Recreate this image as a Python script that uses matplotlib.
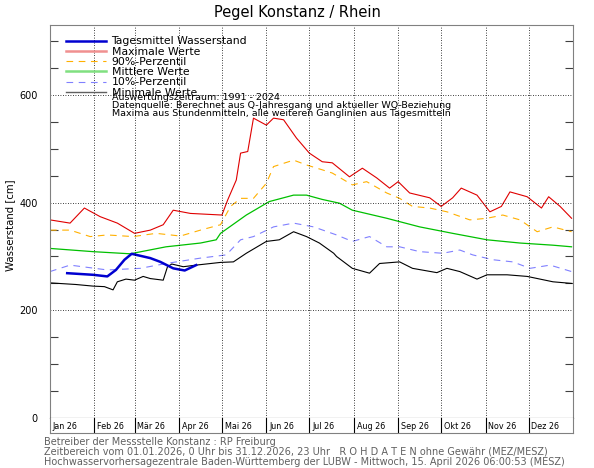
import matplotlib
matplotlib.use("Agg")
import matplotlib.pyplot as plt
import numpy as np
import pandas as pd

# Tag im Jahr (0 = 1. Januar 2026) und Werte in cm
max_days = [0, 14, 24, 35, 47, 59, 70, 79, 86, 98, 120, 124, 130, 133, 138, 142, 151, 156, 163,
            172, 181, 190, 197, 209, 218, 228, 237, 243, 251, 265, 273, 281, 287, 298, 307, 315,
            321, 333, 343, 348, 356, 364]
max_vals = [368, 362, 390, 374, 362, 343, 349, 359, 386, 380, 377, 405, 442, 492, 495, 557, 544,
            557, 554, 520, 492, 476, 474, 448, 464, 446, 427, 439, 418, 409, 393, 409, 427, 414,
            383, 393, 420, 411, 390, 411, 393, 371]

p90_days = [0, 14, 28, 40, 58, 74, 91, 105, 119, 126, 133, 142, 151, 156, 170, 179, 190, 197,
            211, 221, 235, 244, 253, 265, 277, 293, 305, 316, 328, 340, 351, 364]
p90_vals = [349, 349, 337, 340, 337, 343, 338, 349, 359, 393, 408, 408, 436, 467, 479, 470, 461,
            455, 433, 439, 418, 408, 393, 390, 383, 368, 371, 377, 368, 346, 355, 346]

mean_days = [0, 30, 56, 81, 105, 116, 119, 137, 153, 170, 179, 190, 202, 211, 235, 258, 281,
             305, 328, 351, 364]
mean_vals = [315, 309, 305, 318, 325, 331, 343, 377, 402, 414, 414, 406, 399, 386, 371, 355,
             343, 331, 325, 321, 318]

p10_days = [0, 14, 40, 63, 81, 105, 123, 133, 142, 156, 170, 184, 200, 211, 223, 235, 244, 258,
            274, 286, 295, 309, 323, 335, 349, 364]
p10_vals = [272, 284, 275, 278, 287, 297, 303, 331, 337, 355, 362, 355, 340, 328, 337, 318, 318,
            309, 306, 312, 303, 294, 290, 278, 284, 272]

min_days = [0, 18, 30, 38, 44, 47, 53, 59, 65, 70, 79, 82, 85, 93, 102, 119, 128, 137, 151, 160,
            170, 179, 188, 198, 200, 211, 223, 230, 244, 253, 270, 277, 286, 298, 305, 319, 333,
            351, 364]
min_vals = [251, 248, 245, 244, 238, 253, 258, 256, 263, 259, 256, 281, 286, 281, 284, 289, 290,
            306, 328, 331, 346, 337, 325, 306, 300, 278, 269, 287, 290, 278, 270, 278, 272, 258,
            266, 266, 263, 253, 250]

day_days = [12, 30, 40, 46, 52, 57, 70, 77, 86, 94, 102]
day_vals = [269, 266, 263, 275, 294, 305, 297, 290, 278, 274, 284]

month_labels = ["Jan 26", "Feb 26", "Mär 26", "Apr 26", "Mai 26", "Jun 26",
                "Jul 26", "Aug 26", "Sep 26", "Okt 26", "Nov 26", "Dez 26"]

start = np.datetime64("2026-01-01")


def to_dates(days):
    return start + np.array(days, dtype="timedelta64[D]")


W, H = 594, 468
fig = plt.figure(figsize=(W / 100, H / 100), dpi=100)
frame_col = "#808080"

# Hauptdiagramm (Pixel: links 50, rechts 573, oben 25, unten 418)
ax = fig.add_axes([50 / W, (H - 418) / H, 523 / W, (418 - 25) / H])
# Monatsleiste darunter
axm = fig.add_axes([50 / W, (H - 433) / H, 523 / W, 15 / H], sharex=ax)

ax.plot(to_dates(max_days), max_vals, color="#e00000", lw=0.8)
ax.plot(to_dates(p90_days), p90_vals, color="#ffb000", lw=0.8, ls=(0, (6, 5)))
ax.plot(to_dates(mean_days), mean_vals, color="#00c000", lw=0.9)
ax.plot(to_dates(p10_days), p10_vals, color="#8080ff", lw=0.8, ls=(0, (6, 5)))
ax.plot(to_dates(min_days), min_vals, color="black", lw=0.8)
ax.plot(to_dates(day_days), day_vals, color="#0000d0", lw=1.8)

months = pd.date_range("2026-01-01", "2027-01-01", freq="MS")
ax.set_xlim(months[0], months[-1])
ax.set_ylim(0, 730)

# Gitter
for m in months[1:-1]:
    ax.axvline(m, color="black", lw=0.6, ls=(0, (1, 2)))
for v in [200, 400, 600]:
    ax.axhline(v, color="black", lw=0.6, ls=(0, (1, 2)))

ax.set_yticks([0, 200, 400, 600])
ax.set_yticks(np.arange(0, 731, 50), minor=True)
ax.tick_params(axis="y", which="major", length=0, pad=9, labelsize=7)
ax.tick_params(axis="y", which="minor", direction="in", length=6, width=0.8,
               left=True, right=True, color="#404040")
ax.tick_params(axis="x", which="both", bottom=False, labelbottom=False)
ax.set_ylabel("Wasserstand [cm]", fontsize=7.3, labelpad=8)
ax.yaxis.set_label_coords(-0.066, 0.49)
for side in ["left", "right", "top"]:
    ax.spines[side].set_color(frame_col)
ax.spines["bottom"].set_color("black")

axm.set_yticks([])
axm.tick_params(axis="x", which="both", bottom=False, labelbottom=False)
for side in ["left", "right", "bottom"]:
    axm.spines[side].set_color(frame_col)
axm.spines["top"].set_visible(False)
for m, lab in zip(months[:-1], month_labels):
    if m != months[0]:
        axm.axvline(m, color="black", lw=0.8)
    axm.annotate(lab, xy=(m, 0.45), xycoords=("data", "axes fraction"),
                 xytext=(2, 0), textcoords="offset points",
                 ha="left", va="center", fontsize=5.8)

# Legende
handles = [
    plt.Line2D([], [], color="#0000d0", lw=1.8),
    plt.Line2D([], [], color="#f09090", lw=1.8),
    plt.Line2D([], [], color="#ffb000", lw=0.8, ls=(0, (6, 5))),
    plt.Line2D([], [], color="#80e080", lw=1.8),
    plt.Line2D([], [], color="#8080ff", lw=0.8, ls=(0, (6, 5))),
    plt.Line2D([], [], color="#606060", lw=1.0),
]
names = ["Tagesmittel Wasserstand", "Maximale Werte", "90%-Perzentil",
         "Mittlere Werte", "10%-Perzentil", "Minimale Werte"]
fig.legend(handles, names, loc="upper left", bbox_to_anchor=(66 / W, 1 - 36.5 / H),
           frameon=False, fontsize=7.8, borderpad=0, borderaxespad=0,
           handlelength=3.7, handletextpad=0.5, labelspacing=0.02)

notes = ["Auswertungszeitraum: 1991 - 2024",
         "Datenquelle: Berechnet aus Q-Jahresgang und aktueller WQ-Beziehung",
         "Maxima aus Stundenmitteln, alle weiteren Ganglinien aus Tagesmitteln"]
for i, t in enumerate(notes):
    fig.text(112 / W, 1 - (97 + 8 * i) / H, t, fontsize=6.8, va="center", ha="left")

fig.text(297 / W, 1 - 12 / H, "Pegel Konstanz / Rhein", fontsize=10.5,
         ha="center", va="center")

footer = ["Betreiber der Messstelle Konstanz : RP Freiburg",
          "Zeitbereich vom 01.01.2026, 0 Uhr bis 31.12.2026, 23 Uhr   R O H D A T E N ohne Gewähr (MEZ/MESZ)",
          "Hochwasservorhersagezentrale Baden-Württemberg der LUBW - Mittwoch, 15. April 2026 06:00:53 (MESZ)"]
for i, t in enumerate(footer):
    fig.text(44 / W, 1 - (442 + 10 * i) / H, t, fontsize=7.0, color="#606060",
             va="center", ha="left")

fig.savefig("out.png", dpi=100)
